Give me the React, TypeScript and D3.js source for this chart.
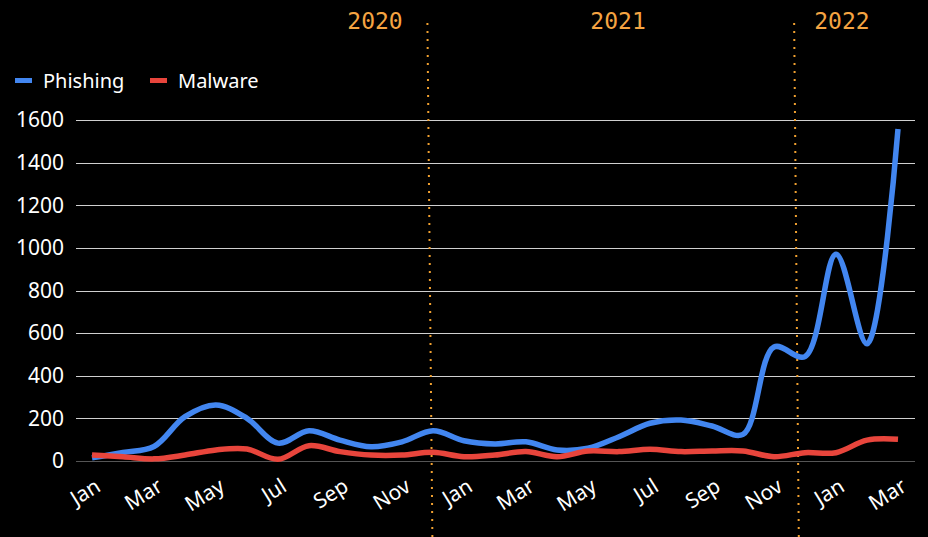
import React from "react";
import * as d3 from "d3";

const months = [
  "Jan", "Feb", "Mar", "Apr", "May", "Jun", "Jul", "Aug", "Sep", "Oct", "Nov", "Dec",
  "Jan", "Feb", "Mar", "Apr", "May", "Jun", "Jul", "Aug", "Sep", "Oct", "Nov", "Dec",
  "Jan", "Feb", "Mar",
];
const phishing = [15, 40, 68, 208, 263, 200, 84, 142, 98, 67, 90, 142, 95, 80, 90, 52, 60, 114, 177, 192, 164, 125, 535, 490, 970, 550, 1558];
const malware = [28, 20, 10, 28, 52, 56, 8, 72, 44, 28, 28, 41, 20, 28, 44, 20, 47, 44, 55, 44, 47, 47, 20, 39, 39, 98, 102];
const yTicks = [0, 200, 400, 600, 800, 1000, 1200, 1400, 1600];
const yearLabels = ["2020", "2021", "2022"];
const yearLabelPos = [9.13, 16.97, 24.19];
const dividerTop = [10.82, 22.65];
const dividerBottom = [10.98, 22.8];
const seriesNames = ["Phishing", "Malware"];
const seriesColors = ["#4286f0", "#e8453c"];

const W = 928;
const H = 537;

export default function App() {
  const x = d3.scaleLinear().domain([0, months.length - 1]).range([92, 898]);
  const y = d3.scaleLinear().domain([0, 1600]).range([461, 120]);
  const line = d3
    .line<number>()
    .x((_, i) => x(i))
    .y((d) => y(d))
    .curve(d3.curveCatmullRom.alpha(0.5));
  const series = [phishing, malware];
  const font = "'Noto Sans', sans-serif";

  return (
    <div style={{ position: "fixed", left: 0, top: 0, width: W, height: H, background: "#000" }}>
      <svg width={W} height={H} style={{ display: "block", background: "#000" }}>
        {yTicks.map((t) => (
          <g key={t}>
            <line
              x1={76}
              x2={915}
              y1={Math.round(y(t)) + 0.5}
              y2={Math.round(y(t)) + 0.5}
              stroke={t === 0 ? "#555" : "#d0d0d0"}
              strokeWidth={1}
            />
            <text
              x={64}
              y={y(t)}
              dy="0.35em"
              textAnchor="end"
              fill="#fff"
              fontFamily={font}
              fontSize={21}
            >
              {t}
            </text>
          </g>
        ))}
        {months.map((m, i) =>
          i % 2 === 0 ? (
            <text
              key={i}
              transform={`translate(${x(i) + 10},490) rotate(-32)`}
              textAnchor="end"
              fill="#fff"
              fontFamily={font}
              fontSize={21}
            >
              {m}
            </text>
          ) : null
        )}
        {dividerTop.map((d, i) => (
          <line
            key={i}
            x1={x(d)}
            x2={x(dividerBottom[i])}
            y1={23}
            y2={H}
            stroke="#f0a030"
            strokeWidth={2}
            strokeDasharray="2,6"
          />
        ))}
        {yearLabels.map((l, i) => (
          <text
            key={l}
            x={x(yearLabelPos[i])}
            y={29}
            textAnchor="middle"
            fill="#f5a442"
            fontFamily="'DejaVu Sans Mono', monospace"
            fontSize={23}
          >
            {l}
          </text>
        ))}
        {series.map((s, i) => (
          <path
            key={i}
            d={line(s) || ""}
            fill="none"
            stroke={seriesColors[i]}
            strokeWidth={5.5}
            strokeLinejoin="round"
          />
        ))}
        {seriesNames.map((n, i) => (
          <g key={n} transform={`translate(${i === 0 ? 15 : 150},0)`}>
            <rect x={0} y={78} width={17} height={5} fill={seriesColors[i]} />
            <text x={28} y={88} fill="#fff" fontFamily={font} fontSize={20}>
              {n}
            </text>
          </g>
        ))}
      </svg>
    </div>
  );
}
